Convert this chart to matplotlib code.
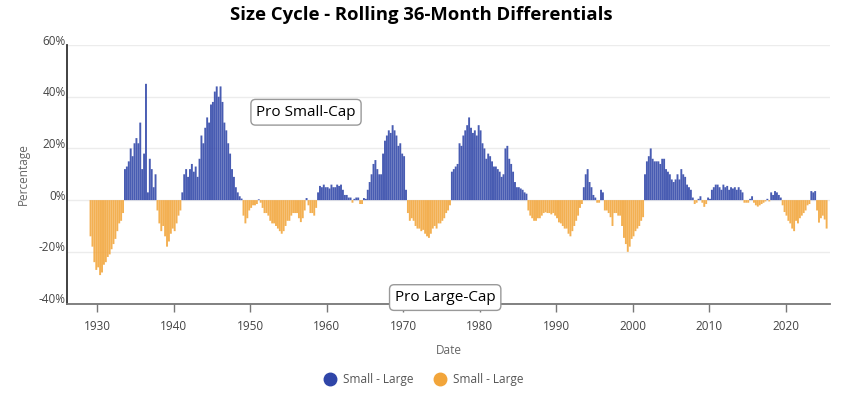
import matplotlib
matplotlib.use("Agg")
import matplotlib.pyplot as plt
import matplotlib.transforms as mtransforms
from matplotlib.lines import Line2D
import numpy as np

plt.rcParams["font.family"] = ["Open Sans", "DejaVu Sans"]

# Quarterly rolling 36-month small minus large differential (%)
start_year = 1929
diff_values = [
    -14, -18, -24, -27,   # 1929
    -26, -29, -28, -25,   # 1930
    -24, -22, -21, -19,   # 1931
    -17, -15, -12, -9,    # 1932
    -8, -5, 12, 13,       # 1933
    15, 20, 17, 22,       # 1934
    24, 22, 30, 12,       # 1935
    18, 45, 3, 16,        # 1936
    12, 5, 10, -4,        # 1937
    -9, -12, -10, -14,    # 1938
    -18, -16, -13, -11,   # 1939
    -12, -9, -6, -4,      # 1940
    3, 10, 12, 9,         # 1941
    12, 14, 11, 13,       # 1942
    9, 16, 25, 22,        # 1943
    28, 32, 30, 37,       # 1944
    38, 42, 44, 40,       # 1945
    44, 38, 30, 27,       # 1946
    22, 18, 12, 9,        # 1947
    5, 3, 1.5, 0.6,       # 1948
    -6, -9, -7, -4,       # 1949
    -3, -2, -2, -1.5,     # 1950
    0.3, -1, -3, -5,      # 1951
    -5, -6, -8, -9,       # 1952
    -9, -10, -11, -12,    # 1953
    -13, -12, -10, -8,    # 1954
    -8, -6, -5, -5,       # 1955
    -5, -7, -8.5, -7,     # 1956
    -4, 0.8, -2, -5,      # 1957
    -5, -6, -3, 3,        # 1958
    5.5, 5, 6, 5,         # 1959
    5, 4.5, 6, 5,         # 1960
    5, 6, 5.5, 6,         # 1961
    4, 2, 2, 1,           # 1962
    1, -1, 0.5, 1,        # 1963
    1, -1.5, -1.5, 0.8,   # 1964
    0.5, 4, 7, 10,        # 1965
    14, 15.5, 12, 10,     # 1966
    10, 18, 23, 25,       # 1967
    27, 26, 29, 27,       # 1968
    25, 21, 22, 18,       # 1969
    17, 4, -5, -8,        # 1970
    -7, -8, -10, -11,     # 1971
    -11, -12, -11.5, -13, # 1972
    -14, -14.6, -13, -11, # 1973
    -10, -11, -9, -9,     # 1974
    -8, -7, -5, -4,       # 1975
    -2, 11, 12, 13,       # 1976
    14, 22, 21, 25,       # 1977
    27, 29, 32, 28,       # 1978
    26, 27, 25, 29,       # 1979
    27, 22, 20, 16,       # 1980
    18, 17, 15, 13,       # 1981
    13, 12, 11, 9,        # 1982
    10, 20, 21, 16,       # 1983
    14, 11, 7, 5,         # 1984
    5, 4.5, 4, 3,         # 1985
    2.5, -4, -6, -7,      # 1986
    -8, -8, -7, -7,       # 1987
    -6, -5, -4.7, -5,     # 1988
    -5, -5.5, -5, -6,     # 1989
    -7, -8.6, -9, -10,    # 1990
    -11, -11, -13, -14,   # 1991
    -12, -10, -8, -6,     # 1992
    -3, -1.5, 5, 10,      # 1993
    12, 7, 5, 2,          # 1994
    1, -1, -1, 4,         # 1995
    3, -4, -4, -5,        # 1996
    -6.6, -10, -5, -5,    # 1997
    -6, -6, -10, -14.6,   # 1998
    -17, -20, -18, -15,   # 1999
    -14, -12, -11, -10,   # 2000
    -8, -6.6, 10, 15,     # 2001
    17, 20, 16, 15,       # 2002
    15, 15, 14, 16,       # 2003
    16, 12, 11, 10,       # 2004
    8, 7, 8, 10,          # 2005
    8, 12, 10, 9,         # 2006
    6, 5, 4, 1,           # 2007
    -1.5, -1, 0.5, 1.5,   # 2008
    -1, -2.6, -1.5, 1,    # 2009
    0.5, 4, 5, 6,         # 2010
    6, 5, 4, 6,           # 2011
    5, 5.5, 4, 5,         # 2012
    4.5, 5, 4, 5,         # 2013
    4, 3, -1, -1,         # 2014
    -1, 0.5, 1.5, -1,     # 2015
    -2, -2.5, -2, -1.5,   # 2016
    -1, -0.5, 0.5, -0.5,  # 2017
    3, 2, 3.5, 3,         # 2018
    2, 1, -2, -4.6,       # 2019
    -6, -8, -9, -11,      # 2020
    -12, -8, -9, -7,      # 2021
    -6, -5, -4, -2,       # 2022
    -1.5, 3.5, 3, 3.5,    # 2023
    -4, -8.7, -7, -6,     # 2024
    -7.5, -11,            # 2025
]

y_ticks = [-40, -20, 0, 20, 40, 60]
x_ticks = [1930, 1940, 1950, 1960, 1970, 1980, 1990, 2000, 2010, 2020]
series_labels = ["Small - Large", "Small - Large"]

BLUE = "#2f45a8"
ORANGE = "#f2a53a"

values = np.array(diff_values, dtype=float)
dates = start_year + 0.125 + 0.25 * np.arange(len(values))
pos = values >= 0

fig = plt.figure(figsize=(8.42, 3.97), dpi=100)
ax = fig.add_axes([0.0796, 0.2355, 0.906, 0.651])

for mask, col in ((pos, BLUE), (~pos, ORANGE)):
    bars = ax.bar(dates[mask], values[mask], width=0.25, color=col,
                  alpha=0.88, linewidth=0)
    for b in bars:
        b.set_snap(False)

ax.set_xlim(1926.05, 2025.8)
ax.set_ylim(-40, 60)
ax.set_yticks(y_ticks)
ax.set_yticklabels([f"{t}%" for t in y_ticks])
ax.set_xticks(x_ticks)
ax.grid(axis="y", color="#ececec", linewidth=1)
ax.set_axisbelow(True)

for side in ("top", "right"):
    ax.spines[side].set_visible(False)
ax.spines["left"].set_color("#333333")
ax.spines["left"].set_linewidth(1.3)
ax.spines["bottom"].set_color("#777777")
ax.spines["bottom"].set_linewidth(1.3)

ax.tick_params(axis="y", length=0, pad=1, labelsize=8.5, labelcolor="#444444")
ax.tick_params(axis="x", length=6, width=1, color="#777777", pad=6,
               labelsize=8.5, labelcolor="#444444")
offset = mtransforms.ScaledTranslation(0, 4 / 72, fig.dpi_scale_trans)
for lbl in ax.get_yticklabels():
    lbl.set_transform(lbl.get_transform() + offset)

ax.set_xlabel("Date", fontsize=8.5, color="#666666", labelpad=8)
ax.set_ylabel("Percentage", fontsize=8.5, color="#666666", labelpad=6)

fig.suptitle("Size Cycle - Rolling 36-Month Differentials", fontsize=13.3,
             fontweight="bold", y=0.985, va="top")

box = dict(boxstyle="round,pad=0.35,rounding_size=0.3", fc="white",
           ec="#999999", lw=1)
ax.text(1957.3, 34, "Pro Small-Cap", fontsize=11, ha="center", va="center",
        bbox=box)
ax.text(1975.5, -37.7, "Pro Large-Cap", fontsize=11, ha="center", va="center",
        bbox=box, clip_on=False, zorder=5)

handles = [
    Line2D([], [], marker="o", linestyle="", markersize=9, color=BLUE),
    Line2D([], [], marker="o", linestyle="", markersize=9, color=ORANGE),
]
fig.legend(handles, series_labels, loc="center", bbox_to_anchor=(0.5, 0.043),
           ncol=2, frameon=False, fontsize=8.5, labelcolor="#555555",
           handletextpad=0.1, columnspacing=1.2)

fig.savefig("out.png", dpi=100)
